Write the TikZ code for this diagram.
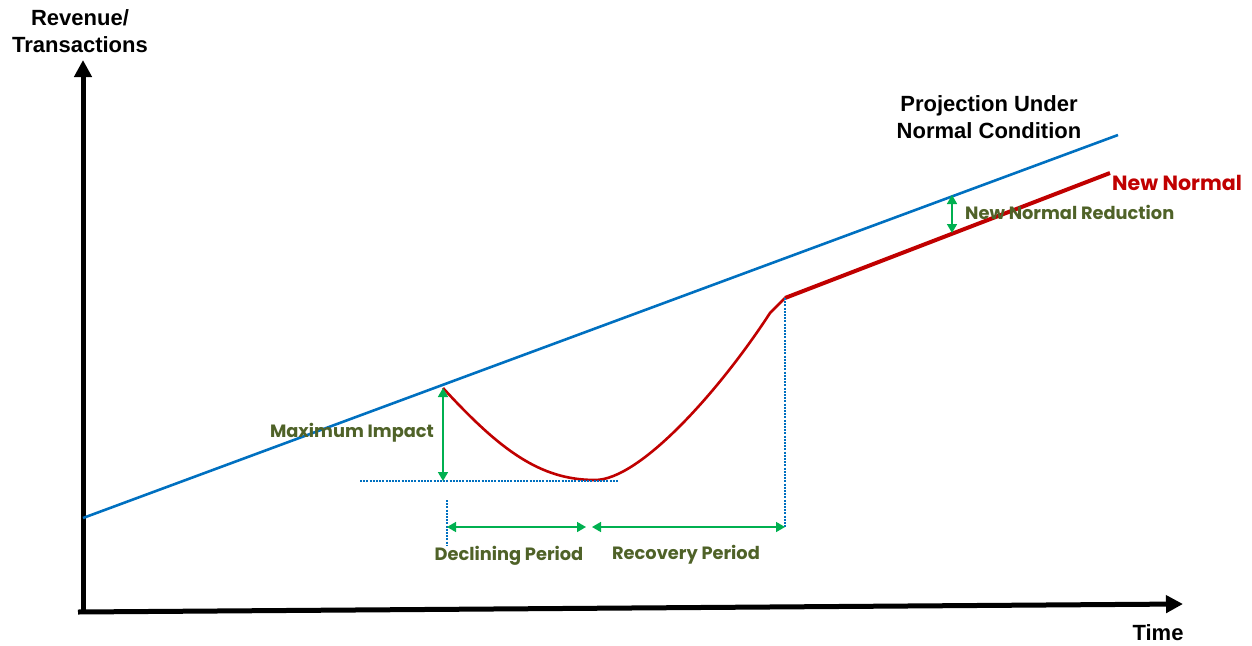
\documentclass[tikz,border=0pt]{standalone}
\usepackage{fontspec}
\setmainfont{Liberation Sans}
\newfontfamily\gapfont{Poppins}
\usetikzlibrary{arrows.meta}
\definecolor{projblue}{RGB}{0,112,192}
\definecolor{impactred}{RGB}{192,0,0}
\definecolor{spangreen}{RGB}{0,176,80}
\definecolor{gaptext}{RGB}{79,98,40}
\tikzset{
  axisline/.style={line width=5pt, -{Triangle[length=17pt,width=17pt]}},
  span/.style={spangreen, line width=1.6pt, {Triangle[length=9pt,width=10pt]}-{Triangle[length=9pt,width=10pt]}},
  guide/.style={projblue, dash pattern=on 2pt off 1.2pt, line width=1.1pt},
  gaplabel/.style={gaptext, font=\gapfont\bfseries\fontsize{17.8}{20}\selectfont, inner sep=0pt},
  heading/.style={font=\bfseries\fontsize{22}{27}\selectfont, align=center, inner sep=0pt},
}
\begin{document}
\begin{tikzpicture}[x=1pt, y=-1pt]
  \useasboundingbox (0,0) rectangle (1252,645);
  % axes
  \coordinate (origin) at (83,612);
  \coordinate (ytip) at (83,60);
  \coordinate (xstart) at (78,612);
  \coordinate (xtip) at (1183,604);
  \draw[axisline] (origin) -- (ytip);
  \draw[axisline] (xstart) -- (xtip);
  \node[heading] (yname) at (80,31) {Revenue/\\Transactions};
  \node[heading] (xname) at (1158,633) {Time};
  % projection under normal condition
  \coordinate (projA) at (83,518);
  \coordinate (projB) at (1118,135);
  \draw[projblue, line width=2.6pt] (projA) -- (projB);
  \node[heading] (projname) at (989,117) {Projection Under\\Normal Condition};
  % impact curve
  \coordinate (drop) at (443,388);
  \coordinate (bottom) at (595,480);
  \coordinate (bend) at (770,313);
  \coordinate (back) at (785,298);
  \coordinate (newend) at (1110,173);
  \draw[impactred, line width=2.6pt] (drop) .. controls (500,450) and (540,480) .. (bottom)
       .. controls (640,480) and (720,390) .. (bend) -- (back);
  \draw[impactred, line width=4pt] (back) -- (newend);
  \node[impactred, font=\gapfont\bfseries\fontsize{20.6}{22}\selectfont, anchor=west, inner sep=0pt] (newname) at (1112,183) {New Normal};
  % guides
  \coordinate (lowL) at (360,481);
  \coordinate (lowR) at (618,481);
  \draw[guide] (lowL) -- (lowR);
  \coordinate (startT) at (447,500);
  \coordinate (startB) at (447,545);
  \draw[guide] (startT) -- (startB);
  \coordinate (endB) at (785,527);
  \draw[guide] (back) -- (endB);
  % spans
  \coordinate (impactB) at (443,481);
  \draw[span] (drop) -- (impactB);
  \node[gaplabel] (impact) at (352,433) {Maximum Impact};
  \coordinate (declL) at (447,527);
  \coordinate (declR) at (586,527);
  \coordinate (recL) at (592,527);
  \draw[span] (declL) -- (declR);
  \draw[span] (recL) -- (endB);
  \node[gaplabel] (declining) at (509,556) {Declining Period};
  \node[gaplabel] (recovery) at (686,555) {Recovery Period};
  \coordinate (redT) at (952,195);
  \coordinate (redB) at (952,233);
  \draw[span] (redT) -- (redB);
  \node[gaplabel, anchor=west] (reduction) at (965,212) {New Normal Reduction};
\end{tikzpicture}
\end{document}
